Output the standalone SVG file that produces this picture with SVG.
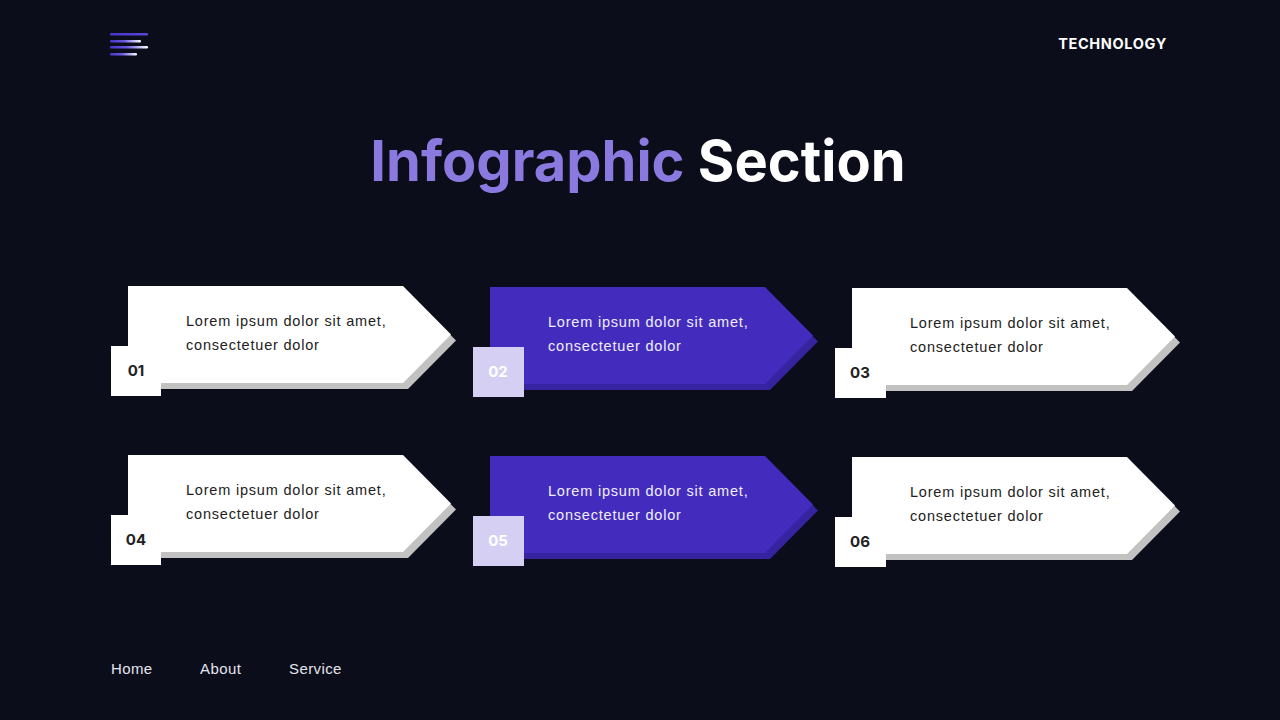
<svg xmlns="http://www.w3.org/2000/svg" width="1280" height="720" viewBox="0 0 1280 720">
<defs>
<linearGradient id="lg" x1="0" y1="0" x2="1" y2="0">
<stop offset="0" stop-color="#4a34c8"/>
<stop offset="0.45" stop-color="#6a58e0"/>
<stop offset="1" stop-color="#ffffff"/>
</linearGradient>
<linearGradient id="lg2" x1="0" y1="0" x2="1" y2="0">
<stop offset="0" stop-color="#4a34c8"/>
<stop offset="1" stop-color="#5a46d8"/>
</linearGradient>
<path id="arrow" d="M0 0 H275 L323 48.5 L275 97 H0 Z"/>
</defs>
<style>
.bg{fill:#0b0d1a}
.wshape{fill:#ffffff}
.wshadow{fill:#c2c2c2}
.pshape{fill:#432cbd}
.pshadow{fill:#3523a0}
.wbox{fill:#ffffff}
.pbox{fill:#d5cff4}
.body{font-family:"Liberation Sans",Arial,sans-serif;font-size:14.5px;letter-spacing:0.8px}
.dark{fill:#222222}
.light{fill:#f0eefc}
.num{font-family:Inter,"Liberation Sans",sans-serif;font-weight:700;font-size:15px;text-anchor:middle}
.nav{font-family:"Liberation Sans",Arial,sans-serif;font-size:15px;letter-spacing:0.4px;fill:#e4e4ee}
</style>
<rect class="bg" x="0" y="0" width="1280" height="720"/>

<g id="logo">
<rect x="110" y="33" width="38" height="2.4" rx="1.2" fill="url(#lg2)"/>
<rect x="110" y="40" width="31" height="2.4" rx="1.2" fill="url(#lg)"/>
<rect x="110" y="46" width="38" height="2.4" rx="1.2" fill="url(#lg)"/>
<rect x="110" y="53" width="27" height="2.4" rx="1.2" fill="url(#lg)"/>
</g>

<g id="header">
<text x="1167" y="49" text-anchor="end" font-family="Inter,'Liberation Sans',sans-serif" font-weight="700" font-size="14.5" letter-spacing="0.65" fill="#ffffff">TECHNOLOGY</text>
</g>

<g id="title">
<text x="638" y="181" text-anchor="middle" font-family="Inter,'Liberation Sans',sans-serif" font-weight="700" font-size="56"><tspan fill="#8a7ae0">Infographic</tspan><tspan fill="#ffffff"> Section</tspan></text>
</g>

<g id="card1">
<use href="#arrow" class="wshadow" x="133" y="292"/>
<use href="#arrow" class="wshape" x="128" y="286"/>
<rect class="wbox" x="111" y="346" width="50" height="50"/>
<text class="num dark" x="136" y="376">01</text>
<text class="body dark" x="186" y="325.5">Lorem ipsum dolor sit amet,</text>
<text class="body dark" x="186" y="350">consectetuer dolor</text>
</g>

<g id="card2">
<use href="#arrow" class="pshadow" x="495" y="293"/>
<use href="#arrow" class="pshape" x="490" y="287"/>
<rect class="pbox" x="473" y="347" width="51" height="50"/>
<text class="num" fill="#ffffff" x="498" y="377">02</text>
<text class="body light" x="548" y="326.5">Lorem ipsum dolor sit amet,</text>
<text class="body light" x="548" y="351">consectetuer dolor</text>
</g>

<g id="card3">
<use href="#arrow" class="wshadow" x="857" y="294"/>
<use href="#arrow" class="wshape" x="852" y="288"/>
<rect class="wbox" x="835" y="348" width="51" height="50"/>
<text class="num dark" x="860" y="378">03</text>
<text class="body dark" x="910" y="327.5">Lorem ipsum dolor sit amet,</text>
<text class="body dark" x="910" y="352">consectetuer dolor</text>
</g>

<g id="card4">
<use href="#arrow" class="wshadow" x="133" y="461"/>
<use href="#arrow" class="wshape" x="128" y="455"/>
<rect class="wbox" x="111" y="515" width="50" height="50"/>
<text class="num dark" x="136" y="545">04</text>
<text class="body dark" x="186" y="494.5">Lorem ipsum dolor sit amet,</text>
<text class="body dark" x="186" y="519">consectetuer dolor</text>
</g>

<g id="card5">
<use href="#arrow" class="pshadow" x="495" y="462"/>
<use href="#arrow" class="pshape" x="490" y="456"/>
<rect class="pbox" x="473" y="516" width="51" height="50"/>
<text class="num" fill="#ffffff" x="498" y="546">05</text>
<text class="body light" x="548" y="495.5">Lorem ipsum dolor sit amet,</text>
<text class="body light" x="548" y="520">consectetuer dolor</text>
</g>

<g id="card6">
<use href="#arrow" class="wshadow" x="857" y="463"/>
<use href="#arrow" class="wshape" x="852" y="457"/>
<rect class="wbox" x="835" y="517" width="51" height="50"/>
<text class="num dark" x="860" y="547">06</text>
<text class="body dark" x="910" y="496.5">Lorem ipsum dolor sit amet,</text>
<text class="body dark" x="910" y="521">consectetuer dolor</text>
</g>

<g id="footer">
<text class="nav" x="111" y="674">Home</text>
<text class="nav" x="200" y="674">About</text>
<text class="nav" x="289" y="674">Service</text>
</g>

<g id="connectors"/>
</svg>
